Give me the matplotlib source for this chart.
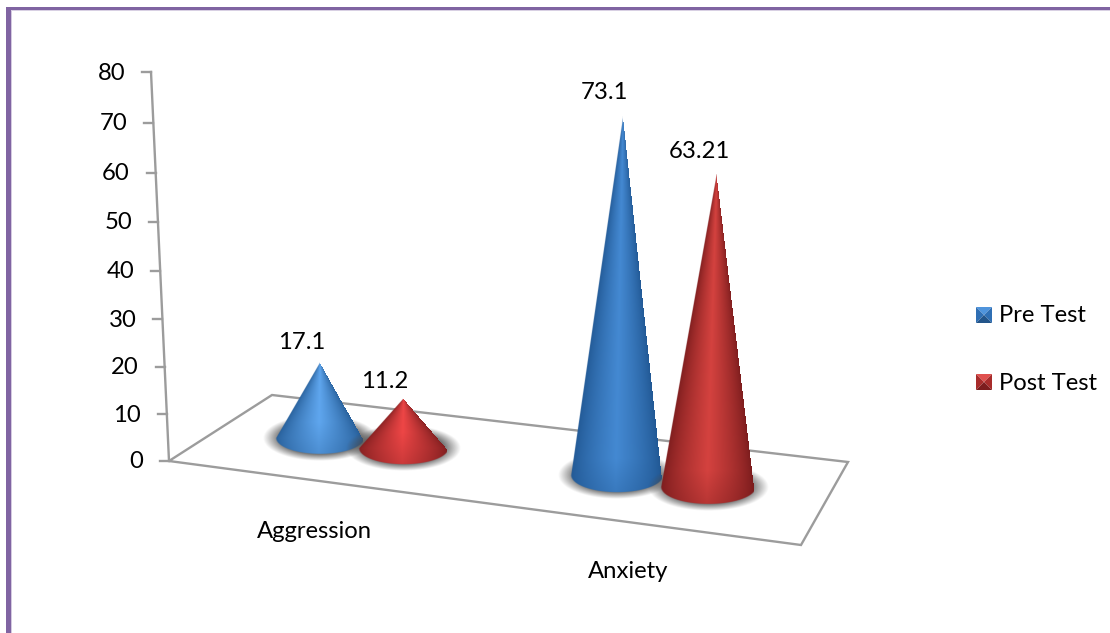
import numpy as np
import matplotlib
matplotlib.use("Agg")
import matplotlib.pyplot as plt
from matplotlib.patches import Polygon, Rectangle
from matplotlib.colors import to_rgb

# chart values
categories = ["Aggression", "Anxiety"]
pre_test = [17.1, 73.1]
post_test = [11.2, 63.21]
series_names = ["Pre Test", "Post Test"]
value_ticks = [0, 10, 20, 30, 40, 50, 60, 70, 80]

W, H = 1110, 633
plt.rcParams["font.family"] = ["Lato", "DejaVu Sans"]
FS = 17.2

fig = plt.figure(figsize=(W / 100, H / 100), dpi=100)
ax = fig.add_axes([0, 0, 1, 1])
ax.set_xlim(0, W)
ax.set_ylim(H, 0)
ax.axis("off")

# purple frame, top and left only
purple = "#8064a2"
ax.add_patch(Rectangle((6, 7), W - 6, 3, color=purple, lw=0))
ax.add_patch(Rectangle((6, 7), 5, H - 7, color=purple, lw=0))
ax.add_patch(Rectangle((11, 10), 1, H - 10, color="#d4cae0", lw=0))
ax.add_patch(Rectangle((11, 10), W - 11, 1, color="#d8d0e3", lw=0))

grey = "#9c9c9c"
floor = [(169, 461), (272, 395), (848, 462), (801, 545)]
ax.add_patch(Polygon(floor, closed=True, fill=False, ec=grey, lw=1.7, zorder=1))


def axis_y(v):
    # the value axis leans back a little, so the steps grow toward the top
    return 461 - 4.65 * v / (1 - 0.000546 * v)


def axis_x(v):
    return 169 - 18 * (461 - axis_y(v)) / 389


ax.plot([axis_x(0), axis_x(80)], [axis_y(0), axis_y(80)], color=grey, lw=1.7, zorder=1)
for v in value_ticks:
    ax.plot([axis_x(v) - 9, axis_x(v)], [axis_y(v), axis_y(v)], color=grey, lw=1.7, zorder=1)
    ax.text(axis_x(v) - 26, axis_y(v) + 1, str(v), ha="right", va="center", fontsize=FS, color="black")


def shadow(bx, by, hw, minor, z):
    xs = np.linspace(bx - hw - 30, bx + hw + 30, 300)
    ys = np.linspace(by - minor - 22, by + minor + 22, 160)
    X, Y = np.meshgrid(xs, ys)
    d = np.sqrt(((X - bx) / (hw + 13)) ** 2 + ((Y - by) / (minor + 7)) ** 2)
    a = np.clip((1 - d) / 0.3, 0, 1)
    img = np.zeros(X.shape + (4,))
    img[..., :3] = 0.3
    img[..., 3] = a * 0.8
    ax.imshow(img, extent=(xs[0], xs[-1], ys[-1], ys[0]), zorder=z, aspect="auto")


def cone(bx, by, hw, minor, value, scale, lean, dark, light, z):
    h = value * scale
    top = by - h
    x0, x1 = bx - hw - 3, bx + hw + 3 + lean * h
    y0, y1 = top - 2, by + minor + 2
    xs = np.arange(x0, x1, 0.5)
    ys = np.arange(y0, y1, 0.5)
    X, Y = np.meshgrid(xs, ys)
    t = np.clip((by - Y) / h, 0, 1)
    half = hw * (1 - t)
    off = X - (bx + lean * h * t)
    u = np.clip(off / (half + 0.5), -1, 1)
    # bright band down the middle, dark toward both edges
    s = (1 - np.abs(u + 0.03)) ** 0.72
    rim = np.clip((Y - by + minor) / (minor * 2.0), 0, 1)
    s = s * (1 - 0.3 * rim)
    d = np.array(to_rgb(dark))
    l = np.array(to_rgb(light))
    img = np.zeros(X.shape + (4,))
    img[..., :3] = np.clip(d + (l - d) * s[..., None], 0, 1)
    # soft coverage: the sides above the base line, the half ellipse below it
    side = np.clip((half - np.abs(off)) * 2 + 0.5, 0, 1) * (Y <= by) * (Y >= top)
    e = 1 - np.sqrt(((X - bx) / hw) ** 2 + ((Y - by) / minor) ** 2)
    base = np.clip(e * minor * 2 + 0.5, 0, 1) * (Y > by)
    img[..., 3] = np.maximum(side, base)
    ax.imshow(img, extent=(xs[0], xs[-1], ys[-1], ys[0]), zorder=z, aspect="auto")


# base of each cone on the floor: x, y, half width, half depth, scale, lean
pre_layout = [(320, 438, 44, 16, 4.45, 0.0), (617, 475, 46, 17, 4.91, 0.0167)]
post_layout = [(403, 448, 44.5, 16, 4.46, 0.0), (708.5, 487, 47.5, 17, 4.97, 0.027)]
pre_colors = [("#235a94", "#5fa6ee"), ("#1f5590", "#4489d2")]
post_colors = [("#7c1d1e", "#ee4646"), ("#761a1b", "#d4423f")]
pre_label_dy = [-19, -24]
post_label_dy = [-17, -21]

for i, cat in enumerate(categories):
    for layout, vals, cols, dy, z in ((pre_layout, pre_test, pre_colors, pre_label_dy, 3),
                                      (post_layout, post_test, post_colors, post_label_dy, 5)):
        bx, by, hw, minor, scale, lean = layout[i]
        v = vals[i]
        shadow(bx, by, hw, minor, z - 1)
        cone(bx, by, hw, minor, v, scale, lean, cols[i][0], cols[i][1], z)
        ax.text(bx + lean * v * scale - 18, by - v * scale + dy[i], str(v), ha="center", va="center",
                fontsize=FS, color="black", zorder=8)

ax.text(314, 531, categories[0], ha="center", va="center", fontsize=FS, color="black")
ax.text(628.5, 571, categories[1], ha="center", va="center", fontsize=FS, color="black")

# legend keys, small bevelled squares
legend_rows = [(series_names[0], 315, "#23558a", "#2f6fb4", "#4f94dc"),
               (series_names[1], 382, "#7c1d1e", "#a82c2b", "#e0504e")]
for name, y, dark, mid, light in legend_rows:
    x0, x1, y0, y1 = 976, 992, y - 8, y + 8
    c = ((x0 + x1) / 2, y)
    ax.add_patch(Polygon([(x0, y0), (x1, y0), c], fc=light, lw=0, zorder=3))
    ax.add_patch(Polygon([(x0, y0), (x0, y1), c], fc=mid, lw=0, zorder=3))
    ax.add_patch(Polygon([(x1, y0), (x1, y1), c], fc=mid, lw=0, zorder=3))
    ax.add_patch(Polygon([(x0, y1), (x1, y1), c], fc=dark, lw=0, zorder=3))
    ax.text(999, y + 1, name, ha="left", va="center", fontsize=FS, color="black")

ax.set_xlim(0, W)
ax.set_ylim(H, 0)
fig.savefig("out.png", dpi=100)
